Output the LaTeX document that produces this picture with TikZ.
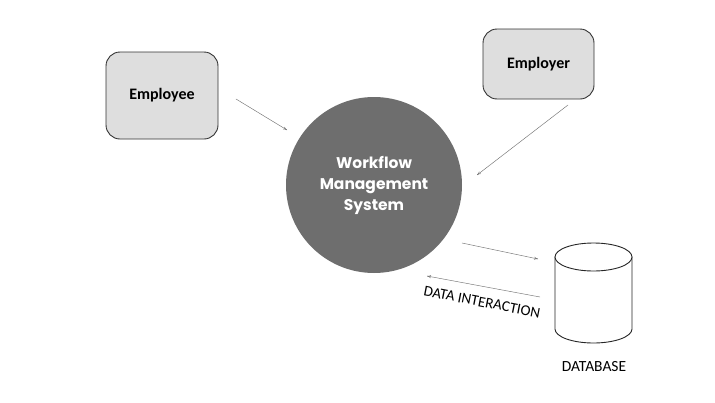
\documentclass[tikz,border=0pt]{standalone}
\usepackage{fontspec}
\setmainfont{Carlito}
\newfontfamily\wmsfont{Poppins}
\usetikzlibrary{arrows.meta}
\begin{document}
\begin{tikzpicture}[x=1pt,y=-1pt,>={To[length=4pt,width=3pt]},line join=round,line cap=round]
    \tikzset{actor/.style={draw=black!80,line width=0.9pt,fill=black!13,rounded corners=14pt,font=\bfseries\fontsize{16}{19}\selectfont},
             link/.style={->,draw=black!55,line width=0.45pt}}
    \useasboundingbox (0,0) rectangle (715,402);
    \node[actor,minimum width=112pt,minimum height=87pt] (employee) at (162,95.5) {Employee};
    \node[actor,minimum width=111pt,minimum height=70pt] (employer) at (538.5,64) {Employer};
    \node[circle,fill=black!57,minimum size=176pt,inner sep=0pt,text=white,align=center,
          font=\wmsfont\bfseries\fontsize{15.5}{21}\selectfont] (wms) at (374,185) {Workflow\\Management\\System};
    % database drum
    \coordinate (db) at (593.5,293);
    \draw[draw=black!85,line width=0.9pt,fill=white] (555,257) -- (555,329) arc[start angle=180,end angle=360,x radius=38.5,y radius=-14] -- (632,257);
    \draw[draw=black!85,line width=0.9pt,fill=white] (593.5,257) ellipse[x radius=38.5,y radius=14];
    \node[font=\fontsize{15.5}{18}\selectfont] (dblabel) at (594,367) {DATABASE};
    \coordinate (e1) at (236,99);  \coordinate (e2) at (287,130);
    \coordinate (r1) at (568,105); \coordinate (r2) at (477,175);
    \coordinate (d1) at (462,243); \coordinate (d2) at (538,259);
    \coordinate (d3) at (540,297); \coordinate (d4) at (427,276);
    \draw[link] (e1) -- (e2);
    \draw[link] (r1) -- (r2);
    \draw[link] (d1) -- (d2);
    \draw[link] (d3) -- (d4);
    \node[rotate=-11,font=\fontsize{15}{18}\selectfont] (dilabel) at (482,302) {DATA INTERACTION};
\end{tikzpicture}
\end{document}
